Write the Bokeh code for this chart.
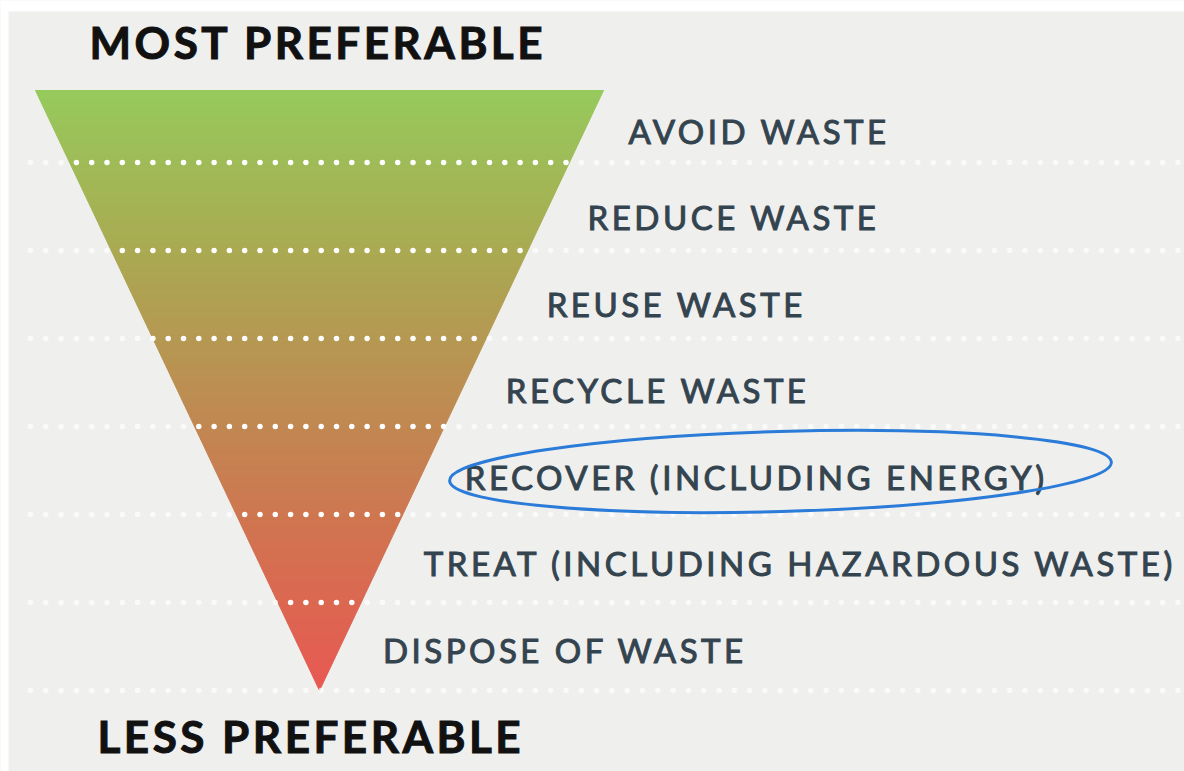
from bokeh.plotting import figure
from bokeh.models import Range1d, InlineStyleSheet
from bokeh.embed import file_html
from bokeh.resources import INLINE
from bokeh.core.properties import value

# ---- data ----
levels = ["AVOID WASTE", "REDUCE WASTE", "REUSE WASTE", "RECYCLE WASTE",
          "RECOVER (INCLUDING ENERGY)", "TREAT (INCLUDING HAZARDOUS WASTE)",
          "DISPOSE OF WASTE"]
top_title = "MOST PREFERABLE"
bottom_title = "LESS PREFERABLE"
highlight = "RECOVER (INCLUDING ENERGY)"

# gradient stops (fraction from top, rgb)
grad_pos = [0.0, 0.25, 0.5, 0.75, 1.0]
grad_rgb = [(150, 202, 92), (168, 172, 82), (188, 142, 82), (210, 114, 80), (233, 88, 82)]

# ---- layout (picture px) ----
W, H = 1184, 771
TRI_TOP, TRI_L, TRI_R = 90, 35, 603
APEX_X, APEX_Y = 319, 690
LINE0, LINE_STEP = 162, 88
LAB0, LAB_STEP = 130, 86.5
BG = "#efefee"
TXT = "#34444f"

p = figure(width=W, height=H, output_backend="svg", toolbar_location=None,
           x_range=Range1d(0, W), y_range=Range1d(H, 0),
           min_border=0, background_fill_color=BG, border_fill_color=BG,
           outline_line_color=None)
p.axis.visible = False
p.grid.visible = False
p.stylesheets = [InlineStyleSheet(css=":host { letter-spacing: 3.5px; }")]

# white page strips round the picture
p.quad(left=[0, 0], right=[W, 8], top=[0, 0], bottom=[11, H],
       fill_color="white", line_color=None)

def edge(y):
    f = (y - TRI_TOP) / (APEX_Y - TRI_TOP)
    return TRI_L + (APEX_X - TRI_L) * f, TRI_R + (APEX_X - TRI_R) * f

def color_at(f):
    for i in range(len(grad_pos) - 1):
        if grad_pos[i] <= f <= grad_pos[i + 1]:
            t = (f - grad_pos[i]) / (grad_pos[i + 1] - grad_pos[i])
            c = [round(a + (b - a) * t) for a, b in zip(grad_rgb[i], grad_rgb[i + 1])]
            return "#%02x%02x%02x" % tuple(c)
    return "#%02x%02x%02x" % grad_rgb[-1]

N = 150
xs, ys, cols = [], [], []
for k in range(N):
    ya = TRI_TOP + (APEX_Y - TRI_TOP) * k / N
    yb = TRI_TOP + (APEX_Y - TRI_TOP) * (k + 1) / N
    la, ra = edge(ya)
    lb, rb = edge(yb)
    xs.append([la, ra, rb, lb])
    ys.append([ya, ya, yb, yb])
    cols.append(color_at((k + 0.5) / N))
p.patches(xs, ys, fill_color=cols, line_color=cols, line_width=1)

# dotted separators
dx_in, dy_in, dx_out, dy_out = [], [], [], []
for i in range(len(levels)):
    y = LINE0 + LINE_STEP * i
    l, r = edge(y)
    x = 30.0
    while x < W + 5:
        if l - 1 <= x <= r + 1:
            dx_in.append(x); dy_in.append(y)
        else:
            dx_out.append(x); dy_out.append(y)
        x += 15.3
p.scatter(dx_out, dy_out, size=5.5, fill_color="white", fill_alpha=0.7, line_color=None)
p.scatter(dx_in, dy_in, size=5.5, fill_color="white", fill_alpha=1.0, line_color=None)

# labels
lx, ly = [], []
for i, name in enumerate(levels):
    yc = LAB0 + LAB_STEP * i
    _, r = edge(yc)
    lx.append(r + 44)
    ly.append(yc)
p.text(lx, ly, text=levels, text_font=value("Lato"), text_font_size="33px",
       text_color=TXT, text_outline_color=TXT, text_baseline="middle", text_align="left")

# titles
p.text([89], [41], text=[top_title], text_font=value("Lato"), text_font_style="bold",
       text_font_size="44px", text_color="#111111", text_outline_color="#111111",
       text_baseline="middle")
p.text([97], [735], text=[bottom_title], text_font=value("Lato"), text_font_style="bold",
       text_font_size="44px", text_color="#111111", text_outline_color="#111111",
       text_baseline="middle")

# highlight ellipse
hi = levels.index(highlight)
p.ellipse(x=[780], y=[LAB0 + LAB_STEP * hi - 5], width=662, height=80, angle=0.028,
          fill_color=None, line_color="#2b7bd8", line_width=3)

open("out.html", "w").write(file_html(p, INLINE))
